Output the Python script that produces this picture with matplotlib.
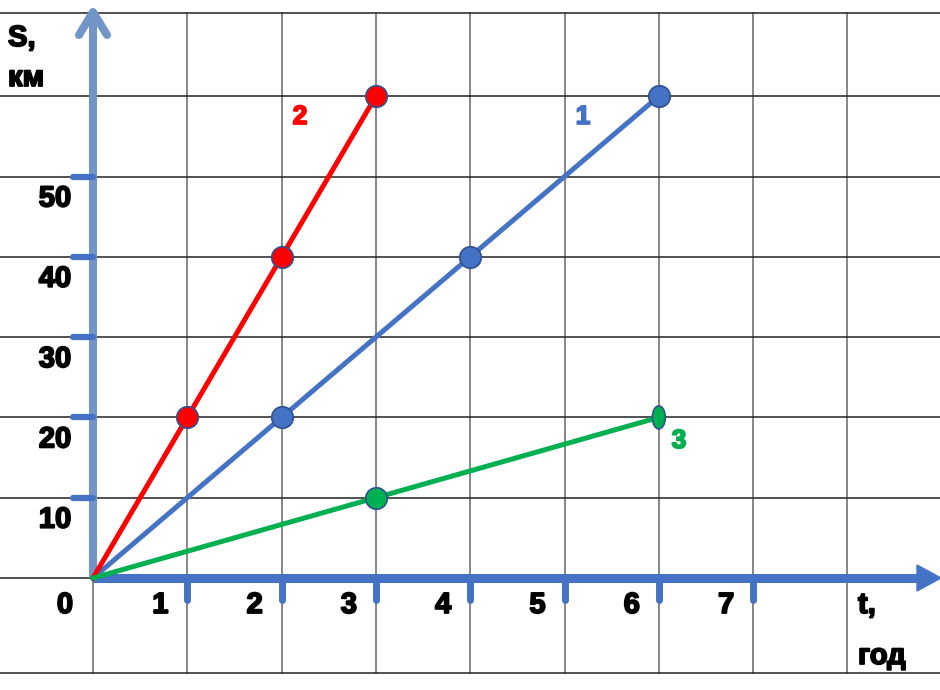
import matplotlib.pyplot as plt
import matplotlib.patheffects as pe
from matplotlib.patches import Ellipse, Polygon
from matplotlib.transforms import offset_copy

plt.rcParams['font.family'] = ['Liberation Sans', 'DejaVu Sans']

# data: distance S (km) vs time t (hours)
t1 = [0, 2, 4, 6]
s1 = [0, 20, 40, 60]
t2 = [0, 1, 2, 3]
s2 = [0, 20, 40, 60]
t3 = [0, 3, 6]
s3 = [0, 10, 20]
x_ticks = [1, 2, 3, 4, 5, 6, 7]
y_ticks = [10, 20, 30, 40, 50]

BLUE = '#4472C4'
RED = '#FF0000'
GREEN = '#00B050'
AXIS_Y = '#7295C8'
EDGE = '#2F528F'
FS = 21


def heavy(color='black'):
    # thicker glyphs, like the heavy bold in the picture
    return [pe.withStroke(linewidth=1.3, foreground=color)]


fig = plt.figure(figsize=(9.4, 6.9), dpi=100)
ax = fig.add_axes([0, 0, 1, 1])
px, py = 94.3, 8.03          # pixels per hour / per km
ax.set_xlim(-93 / px, 847 / px)
ax.set_ylim(-112 / py, 578 / py)
ax.axis('off')

# background grid
top, bottom = 565 / py, -95 / py
for gx in range(0, 9):
    ax.plot([gx, gx], [bottom, top], color='#666666', lw=1.1, zorder=1)
for gy in [bottom, 0, 10, 20, 30, 40, 50, 60, top]:
    ax.plot([-2, 10], [gy, gy], color='#222222', lw=1.1, zorder=1)

# axes with arrows
ax.plot([0, 0], [0, 566 / py], color=AXIS_Y, lw=5.8, solid_capstyle='butt', zorder=3)
ax.plot([-14 / px, 0, 14 / px], [543 / py, 566 / py, 543 / py], color=AXIS_Y, lw=5.8,
        solid_capstyle='round', solid_joinstyle='round', zorder=3)
ax.plot([0, 825 / px], [0, 0], color=BLUE, lw=6.5, solid_capstyle='butt', zorder=4)
ax.add_patch(Polygon([[824 / px, 13 / py], [848 / px, 0], [824 / px, -13 / py]],
                     closed=True, color=BLUE, zorder=4))

for xt in x_ticks:
    ax.plot([xt, xt], [0, -22 / py], color=BLUE, lw=5, solid_capstyle='round', zorder=4)
    ax.text(xt, 0, str(xt), fontsize=FS, fontweight='bold', ha='center', va='center',
            path_effects=heavy(),
            transform=offset_copy(ax.transData, fig=fig, x=-27, y=-27, units='dots'))
ax.text(0, 0, '0', fontsize=FS, fontweight='bold', ha='center', va='center',
        path_effects=heavy(),
        transform=offset_copy(ax.transData, fig=fig, x=-28, y=-27, units='dots'))
for yt in y_ticks:
    ax.plot([-20 / px, 0], [yt, yt], color=BLUE, lw=4.5, solid_capstyle='round', zorder=4)
    ax.text(0, yt, str(yt), fontsize=FS, fontweight='bold', ha='center', va='center',
            path_effects=heavy(),
            transform=offset_copy(ax.transData, fig=fig, x=-38, y=-22, units='dots'))

# axis titles
ax.text(8, 652, 'S,', fontsize=FS, fontweight='bold', ha='left', va='center',
        path_effects=heavy(), transform=None)
ax.text(8, 612, 'км', fontsize=FS, fontweight='bold', ha='left', va='center',
        path_effects=heavy(), transform=None)
ax.text(858, 85, 't,', fontsize=FS, fontweight='bold', ha='left', va='center',
        path_effects=heavy(), transform=None)
ax.text(858, 34, 'год', fontsize=FS, fontweight='bold', ha='left', va='center',
        path_effects=heavy(), transform=None)

# lines
ax.plot(t1, s1, color=BLUE, lw=3.6, zorder=5)
ax.plot(t2, s2, color=RED, lw=3.6, zorder=5)
ax.plot(t3, s3, color=GREEN, lw=3.6, zorder=5)
ax.plot(t1[1:], s1[1:], 'o', ms=15.5, mfc=BLUE, mec=EDGE, mew=1.2, zorder=6)
ax.plot(t2[1:], s2[1:], 'o', ms=15.5, mfc=RED, mec=EDGE, mew=1.2, zorder=6)
ax.plot(t3[1:-1], s3[1:-1], 'o', ms=15.5, mfc=GREEN, mec=EDGE, mew=1.2, zorder=6)
ax.add_patch(Ellipse((t3[-1], s3[-1]), 13 / px, 23 / py, facecolor=GREEN,
                     edgecolor=EDGE, lw=1.2, zorder=6))

# line numbers
ax.text(300, 573, '2', color=RED, fontsize=19, fontweight='bold', ha='center',
        va='center', path_effects=heavy(RED), transform=None)
ax.text(583, 573, '1', color=BLUE, fontsize=19, fontweight='bold', ha='center',
        va='center', path_effects=heavy(BLUE), transform=None)
ax.text(679, 249, '3', color=GREEN, fontsize=19, fontweight='bold', ha='center',
        va='center', path_effects=heavy(GREEN), transform=None)

fig.savefig('out.png', dpi=100)
